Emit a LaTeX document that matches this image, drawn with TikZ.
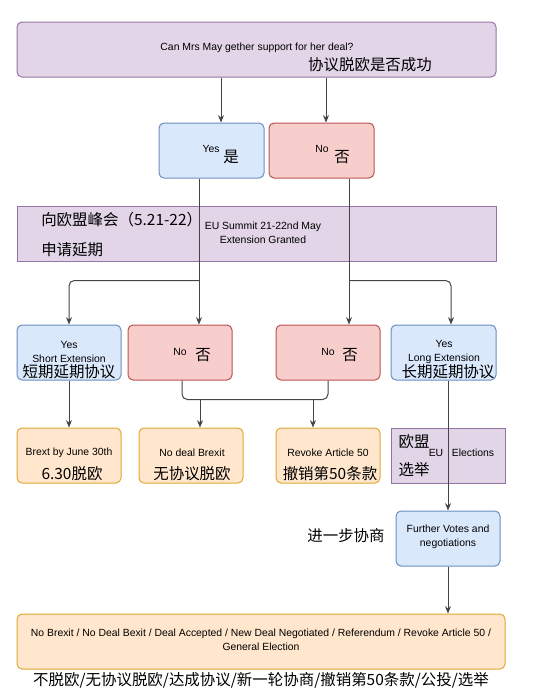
\documentclass[tikz,border=0pt]{standalone}
\usepackage{fontspec}
\setmainfont{Liberation Sans}
\newfontfamily\cjk{Noto Sans CJK SC}
\usetikzlibrary{calc,arrows.meta}
\definecolor{pfill}{HTML}{E1D5E7}
\definecolor{pline}{HTML}{9673A6}
\definecolor{bfill}{HTML}{DAE8FC}
\definecolor{bline}{HTML}{6C8EBF}
\definecolor{rfill}{HTML}{F8CECC}
\definecolor{rline}{HTML}{B85450}
\definecolor{ofill}{HTML}{FFE6CC}
\definecolor{oline}{HTML}{E0A830}
\definecolor{conn}{HTML}{444444}
\tikzset{
  base/.style={draw, line width=0.75pt, inner sep=0pt, minimum height=41.25pt},
  purplebox/.style={base, fill=pfill, draw=pline},
  bluebox/.style={base, fill=bfill, draw=bline, rounded corners=3.75pt},
  redbox/.style={base, fill=rfill, draw=rline, rounded corners=3.75pt},
  orangebox/.style={base, fill=ofill, draw=oline, rounded corners=3.75pt},
  en/.style={inner sep=0pt, font=\fontsize{7.8}{10.5}\selectfont, align=center},
  zh/.style={inner sep=0pt, font=\fontsize{11.6}{14}\cjk},
  arr/.style={draw=conn, line width=0.75pt, -{Stealth[length=5.5pt,width=4.5pt]}},
  ln/.style={draw=conn, line width=0.75pt}
}
\begin{document}
\begin{tikzpicture}[x=0.75pt,y=-0.75pt]
\useasboundingbox (0,0) rectangle (554,693);
% boxes
\node[purplebox, rounded corners=3.75pt, minimum width=359.25pt] (top) at (256.5,49.5) {};
\node[bluebox, minimum width=78.75pt] (yes1) at (211.5,150.5) {};
\node[redbox, minimum width=78.75pt] (no1) at (321.5,150.5) {};
\node[purplebox, minimum width=359.25pt] (summit) at (256.5,233.5) {};
\node[bluebox, minimum width=78pt] (short) at (69,352.5) {};
\node[redbox, minimum width=78pt] (noA) at (180,352.5) {};
\node[redbox, minimum width=78pt] (noB) at (328,352.5) {};
\node[bluebox, minimum width=78.75pt] (long) at (443.5,352.5) {};
\node[orangebox, minimum width=78pt] (brexit) at (69,455.5) {};
\node[orangebox, minimum width=78pt] (nodeal) at (191,455.5) {};
\node[orangebox, minimum width=78pt] (revoke) at (328,455.5) {};
\node[purplebox, minimum width=85.5pt] (elect) at (448,455.5) {};
\node[bluebox, minimum width=78pt] (further) at (448,538.5) {};
\node[orangebox, minimum width=366pt] (final) at (261,641.5) {};
% connectors
\coordinate (a1) at ($(yes1.north)+(9.5,0)$);
\draw[arr] (a1 |- top.south) -- (a1);
\coordinate (a2) at ($(no1.north)+(4.5,0)$);
\draw[arr] (a2 |- top.south) -- (a2);
\coordinate (b1) at ($(yes1.south)+(-12.5,0)$);
\draw[arr] (b1) -- (b1 |- noA.north);
\coordinate (j1) at ($(b1)+(0,102)$);
\draw[arr, rounded corners=4pt] (j1) -- (j1 -| short.north) -- (short.north);
\coordinate (b2) at ($(no1.south)+(27.5,0)$);
\draw[arr] (b2) -- (b2 |- noB.north);
\coordinate (j2) at ($(b2)+(0,102)$);
\coordinate (l2) at ($(long.north)+(7.5,0)$);
\draw[arr, rounded corners=4pt] (j2) -- (j2 -| l2) -- (l2);
\draw[arr] (short.south) -- (brexit.north);
\coordinate (c1) at ($(noA.south)+(2,0)$);
\coordinate (m1) at ($(c1)+(0,19)$);
\draw[ln, rounded corners=4pt] (c1) -- (m1) -- (m1 -| noB.south) -- (noB.south);
\coordinate (d1) at ($(nodeal.north)+(9,0)$);
\draw[arr] (d1 |- m1) -- (d1);
\coordinate (d2) at ($(revoke.north)+(-15,0)$);
\draw[arr] (d2 |- m1) -- (d2);
\coordinate (e1) at ($(long.south)+(4.5,0)$);
\draw[arr] (e1) -- (further.north);
\draw[arr] (further.south) -- (further.south |- final.north);
% texts
\node[en] (t1) at (257,48) {Can Mrs May gether support for her deal?};
\node[zh] (t2) at (370,65) {协议脱欧是否成功};
\node[en] (t3) at (211,149) {Yes};
\node[zh] (t4) at (231,157) {是};
\node[en] (t5) at (322,149) {No};
\node[zh] (t6) at (342,157) {否};
\node[zh, anchor=west] (t7) at (41,220) {向欧盟峰会（5.21-22）};
\node[zh, anchor=west] (t8) at (41,250) {申请延期};
\node[en] (t9) at (263,233) {EU Summit 21-22nd May\\Extension Granted};
\node[en] (t10) at (69,352) {Yes\\Short Extension};
\node[zh] (t11) at (69,372) {短期延期协议};
\node[en] (t12) at (180,352) {No};
\node[zh] (t13) at (203,355) {否};
\node[en] (t14) at (328,352) {No};
\node[zh] (t15) at (350,355) {否};
\node[en] (t16) at (444,352) {Yes\\Long Extension};
\node[zh] (t17) at (448,372) {长期延期协议};
\node[en] (t18) at (69,453) {Brext by June 30th};
\node[zh] (t19) at (72,474) {6.30脱欧};
\node[en] (t20) at (192,453) {No deal Brexit};
\node[zh] (t21) at (192,474) {无协议脱欧};
\node[en] (t22) at (328,453) {Revoke Article 50};
\node[zh] (t23) at (330,474) {撤销第50条款};
\node[zh] (t24) at (414,442) {欧盟};
\node[zh] (t25) at (414,470) {选举};
\node[en] (t26) at (436,453) {EU};
\node[en] (t27) at (473,453) {Elections};
\node[en] (t28) at (448,537) {Further Votes and\\negotiations};
\node[zh] (t29) at (346,536) {进一步协商};
\node[en] (t30) at (261,640) {No Brexit / No Deal Bexit / Deal Accepted / New Deal Negotiated / Referendum / Revoke Article 50 /\\General Election};
\node[zh] (t31) at (261,680) {不脱欧/无协议脱欧/达成协议/新一轮协商/撤销第50条款/公投/选举};
\end{tikzpicture}
\end{document}
